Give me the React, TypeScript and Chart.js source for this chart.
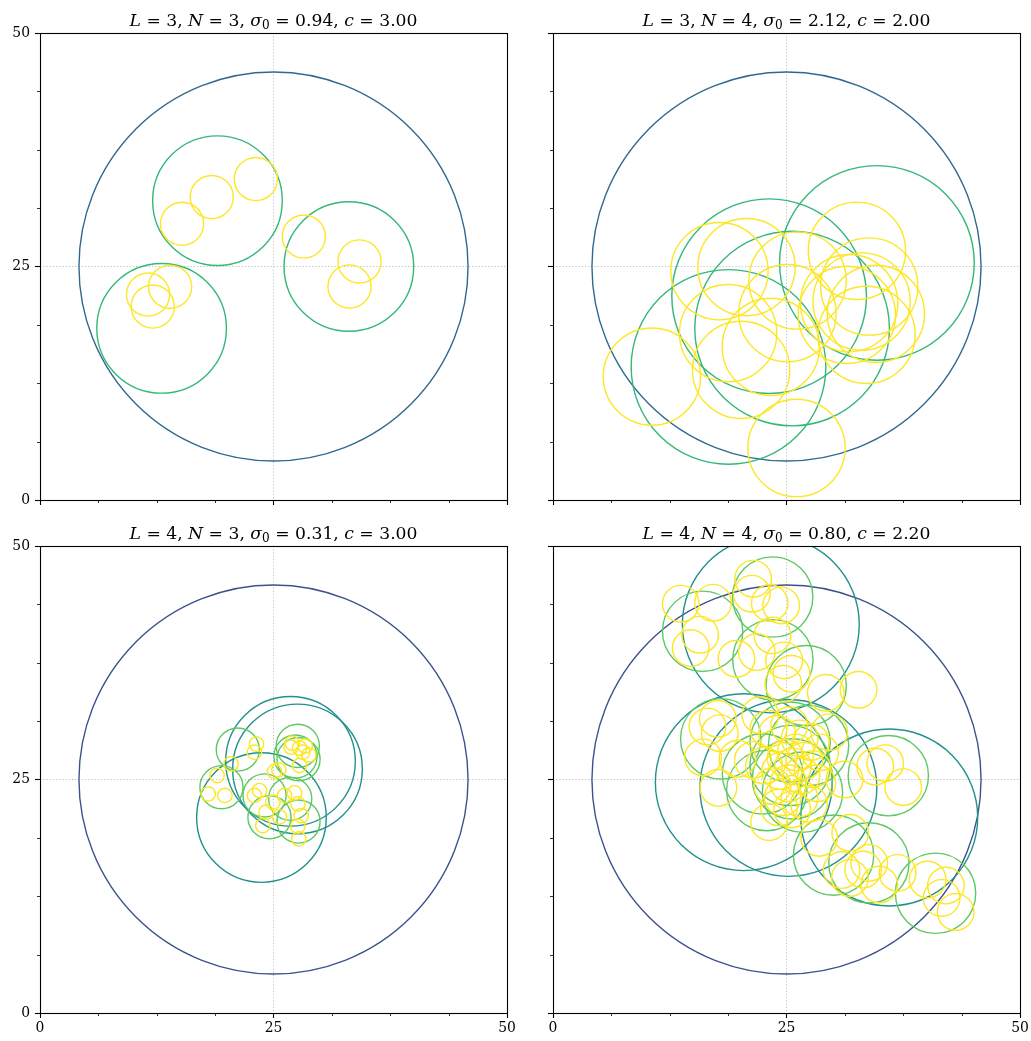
import React, { useEffect, useRef } from "react";
import { Chart, registerables } from "chart.js";

Chart.register(...registerables);

type Pt = [number, number];

// ---------- data ----------
const TITLES = [
  "L = 3, N = 3, σ₀ = 0.94, c = 3.00",
  "L = 3, N = 4, σ₀ = 2.12, c = 2.00",
  "L = 4, N = 3, σ₀ = 0.31, c = 3.00",
  "L = 4, N = 4, σ₀ = 0.80, c = 2.20",
];

const AXIS_MIN = 0;
const AXIS_MAX = 50;
const MAJOR_STEP = 25;
const MINOR_TICKS = [6.25, 12.5, 18.75, 31.25, 37.5, 43.75];

const COLORS_L3 = ["#31688e", "#35b779", "#fde725"];
const COLORS_L4 = ["#3b528b", "#21918c", "#5ec962", "#fde725"];

// panel 1
const p1Radii = [20.83, 6.94, 2.31];
const p1Level0: Pt[] = [[25, 25]];
const p1Level1: Pt[] = [[19.0, 32.05], [33.07, 25.0], [13.02, 18.38]];
const p1Level2: Pt[] = [
  [23.11, 34.36], [18.39, 32.43], [15.21, 29.57], [28.25, 28.21], [34.21, 25.54],
  [33.14, 22.86], [13.93, 22.82], [11.57, 22.0], [12.07, 20.71],
];

// panel 2
const p2Radii = [20.83, 10.42, 5.21];
const p2Level0: Pt[] = [[25, 25]];
const p2Level1: Pt[] = [[34.68, 25.38], [23.14, 21.82], [25.6, 18.36], [18.79, 14.25]];
const p2Level2: Pt[] = [
  [26.07, 5.57], [10.59, 13.21], [17.82, 24.5], [20.71, 24.93], [18.75, 17.86],
  [20.14, 13.93], [23.32, 16.39], [25.1, 20.0], [26.18, 23.5], [32.54, 26.68],
  [33.86, 22.86], [31.46, 19.82], [31.71, 21.07], [33.04, 21.25], [34.57, 19.93],
  [33.57, 17.68],
];

// panel 3
const p3Radii = [20.83, 6.94, 2.31, 0.77];
const p3Level0: Pt[] = [[25, 25]];
const p3Level1: Pt[] = [[23.71, 20.93], [26.82, 26.95], [27.57, 26.13]];
const p3Level2: Pt[] = [
  [21.18, 28.21], [19.43, 24.18], [24.04, 23.29], [26.79, 22.93], [24.57, 20.96],
  [27.68, 20.5], [27.6, 28.6], [27.35, 27.46], [27.68, 27.18],
];
const p3Level3: Pt[] = [
  [23.18, 28.79], [22.96, 27.93], [20.46, 26.68], [18.96, 25.43], [18.0, 23.46],
  [19.79, 23.29], [26.89, 28.46], [27.79, 28.36], [28.14, 27.93], [28.79, 27.64],
  [27.79, 26.5], [25.1, 25.86], [25.57, 26.04], [23.5, 23.82], [22.96, 23.29],
  [26.18, 23.29], [27.25, 23.57], [24.93, 22.57], [24.21, 21.5], [27.61, 22.39],
  [25.64, 21.0], [27.96, 21.14], [23.86, 20.07], [27.61, 20.0], [27.71, 18.64],
  [27.0, 28.9], [28.4, 28.6],
];

// panel 4
const p4Radii = [20.83, 9.47, 4.3, 1.96];
const p4Level0: Pt[] = [[25, 25]];
const p4Level1: Pt[] = [[23.32, 41.6], [20.43, 24.71], [25.2, 24.1], [36.0, 20.93]];
const p4Level2: Pt[] = [
  [23.52, 44.54], [16.02, 40.87], [23.54, 37.82], [27.11, 35.05],
  [35.9, 25.41], [30.04, 16.9], [33.82, 16.07], [40.96, 12.82],
  [17.96, 29.36], [22.43, 25.6], [22.89, 23.82], [25.39, 26.5],
  [27.36, 28.64], [25.39, 29.0], [26.71, 23.64], [25.64, 25.07],
];
const p4Level3: Pt[] = [
  [13.68, 43.82], [17.14, 43.93], [21.43, 46.5], [21.29, 44.89], [23.21, 43.89],
  [24.43, 43.64], [15.75, 40.5], [14.75, 39.07], [23.5, 40.43], [21.82, 38.64],
  [19.64, 37.93], [24.75, 37.75], [25.54, 36.32], [24.65, 35.25], [29.21, 34.29],
  [32.71, 34.61],
  [34.5, 26.39], [35.57, 26.75], [37.5, 24.18], [31.21, 25.0], [31.82, 19.29],
  [28.5, 18.75], [33.86, 16.07], [33.2, 15.36], [31.79, 14.46], [34.93, 13.75],
  [36.9, 15.0], [40.11, 14.29], [42.07, 13.64], [41.61, 12.32], [43.11, 10.82],
  [30.9, 15.3],
  [17.64, 31.5], [16.54, 30.68], [17.86, 29.96], [16.07, 27.36], [17.71, 24.11],
  [19.75, 27.21], [23.14, 20.43], [29.57, 30.07], [23.07, 30.43],
  [22.2, 31.9], [24.0, 29.9], [25.3, 30.8], [26.4, 29.4], [27.6, 29.0],
  [28.6, 27.9], [26.0, 27.9], [24.9, 27.3], [26.9, 27.0], [25.7, 26.4],
  [27.8, 26.1], [24.3, 25.9], [26.6, 25.4], [28.3, 24.6], [25.2, 24.6],
  [22.6, 26.5], [21.4, 27.1], [23.5, 24.3], [24.6, 23.1], [26.4, 23.0],
  [27.4, 22.4], [25.6, 21.8], [24.2, 22.0],
];

// ---------- layout ----------
type PanelCfg = {
  title: string;
  radii: number[];
  levels: Pt[][];
  colors: string[];
  showX: boolean;
  showY: boolean;
  left: number;
  top: number;
  width: number;
  padRight: number;
};

const CANVAS_H = 523;
const TOP_PAD = 33;
const Y_AXIS_W = 40;
const X_AXIS_H = 23;
const FONT = '"DejaVu Serif", serif';

const PANELS: PanelCfg[] = [
  { title: TITLES[0], radii: p1Radii, levels: [p1Level0, p1Level1, p1Level2], colors: COLORS_L3, showX: false, showY: true, left: 0, top: 0, width: 530, padRight: 23 },
  { title: TITLES[1], radii: p2Radii, levels: [p2Level0, p2Level1, p2Level2], colors: COLORS_L3, showX: false, showY: false, left: 513, top: 0, width: 518, padRight: 11 },
  { title: TITLES[2], radii: p3Radii, levels: [p3Level0, p3Level1, p3Level2, p3Level3], colors: COLORS_L4, showX: true, showY: true, left: 0, top: 513, width: 530, padRight: 23 },
  { title: TITLES[3], radii: p4Radii, levels: [p4Level0, p4Level1, p4Level2, p4Level3], colors: COLORS_L4, showX: true, showY: false, left: 513, top: 513, width: 518, padRight: 11 },
];

function drawMathTitle(ctx: CanvasRenderingContext2D, text: string, cx: number, baseline: number, size: number) {
  type Run = { t: string; s: "rm" | "it" | "sub" };
  const runs: Run[] = [];
  for (const ch of Array.from(text)) {
    let s: Run["s"] = "rm";
    let t = ch;
    if (ch === "₀") { s = "sub"; t = "0"; }
    else if (/[A-Za-zσ]/.test(ch)) s = "it";
    const last = runs[runs.length - 1];
    if (last && last.s === s) last.t += t;
    else runs.push({ t, s });
  }
  const fontFor = (s: Run["s"]) =>
    s === "it" ? `italic ${size}px ${FONT}` : s === "sub" ? `${size * 0.7}px ${FONT}` : `${size}px ${FONT}`;
  let total = 0;
  const widths = runs.map((r) => {
    ctx.font = fontFor(r.s);
    const w = ctx.measureText(r.t).width;
    total += w;
    return w;
  });
  let x = cx - total / 2;
  ctx.fillStyle = "#000";
  ctx.textBaseline = "alphabetic";
  ctx.textAlign = "left";
  runs.forEach((r, i) => {
    ctx.font = fontFor(r.s);
    ctx.fillText(r.t, x, r.s === "sub" ? baseline + size * 0.18 : baseline);
    x += widths[i];
  });
}

function Panel({ cfg }: { cfg: PanelCfg }) {
  const ref = useRef<HTMLCanvasElement>(null);
  useEffect(() => {
    const canvas = ref.current;
    if (!canvas) return;
    const L = cfg.levels.length;
    const datasets = cfg.levels.map((pts, lvl) => ({
      label: `level ${lvl}`,
      data: pts.map(([x, y]) => ({ x, y })),
      pointRadius: (c: any) => {
        const s = c.chart.scales.x;
        return Math.abs(s.getPixelForValue(cfg.radii[lvl]) - s.getPixelForValue(0));
      },
      pointStyle: "circle",
      pointBackgroundColor: "rgba(0,0,0,0)",
      pointBorderColor: cfg.colors[lvl],
      pointBorderWidth: 1.4,
      showLine: false,
      clip: 0,
      order: L - lvl,
    }));

    const decor = {
      id: "decor",
      afterDraw(chart: any) {
        const { ctx, chartArea: a, scales } = chart;
        const xs = scales.x;
        const ys = scales.y;
        ctx.save();
        ctx.strokeStyle = "#000";
        ctx.lineWidth = 0.8;
        for (const v of MINOR_TICKS) {
          const px = Math.round(xs.getPixelForValue(v)) + 0.5;
          ctx.beginPath();
          ctx.moveTo(px, a.bottom);
          ctx.lineTo(px, a.bottom + 3);
          ctx.stroke();
          const py = Math.round(ys.getPixelForValue(v)) + 0.5;
          ctx.beginPath();
          ctx.moveTo(a.left, py);
          ctx.lineTo(a.left - 3, py);
          ctx.stroke();
        }
        ctx.lineWidth = 1.1;
        ctx.strokeRect(a.left + 0.5, a.top + 0.5, a.right - a.left, a.bottom - a.top);
        drawMathTitle(ctx, cfg.title, (a.left + a.right) / 2, a.top - 7.5, 17.2);
        ctx.restore();
      },
    };

    const gridColor = (c: any) => (c.tick && c.tick.value === 25 ? "#b0b0b0" : "rgba(0,0,0,0)");

    const chart = new Chart(canvas, {
      type: "scatter",
      data: { datasets: datasets as any },
      options: {
        animation: false,
        responsive: false,
        maintainAspectRatio: false,
        devicePixelRatio: 1,
        events: [],
        layout: { padding: { left: 0, right: cfg.padRight, top: TOP_PAD, bottom: 0 } },
        plugins: {
          legend: { display: false },
          tooltip: { enabled: false },
          title: { display: false },
        },
        scales: {
          x: {
            type: "linear",
            min: AXIS_MIN,
            max: AXIS_MAX,
            afterFit: (s: any) => { s.height = X_AXIS_H; },
            ticks: {
              display: cfg.showX,
              stepSize: MAJOR_STEP,
              autoSkip: false,
              maxRotation: 0,
              padding: 2,
              color: "#000",
              font: { family: FONT, size: 13.9 },
            },
            grid: {
              color: gridColor,
              lineWidth: 0.8,
              tickColor: "#000",
              tickLength: 5,
              tickWidth: 1.1,
            },
            border: { display: false, dash: [1.2, 2] },
          },
          y: {
            type: "linear",
            min: AXIS_MIN,
            max: AXIS_MAX,
            afterFit: (s: any) => { s.width = Y_AXIS_W; },
            ticks: {
              display: cfg.showY,
              stepSize: MAJOR_STEP,
              autoSkip: false,
              padding: 5,
              color: "#000",
              font: { family: FONT, size: 13.9 },
            },
            grid: {
              color: gridColor,
              lineWidth: 0.8,
              tickColor: "#000",
              tickLength: 5,
              tickWidth: 1.1,
            },
            border: { display: false, dash: [1.2, 2] },
          },
        },
      } as any,
      plugins: [decor],
    });
    return () => chart.destroy();
  }, [cfg]);

  return (
    <canvas
      ref={ref}
      width={cfg.width}
      height={CANVAS_H}
      style={{ position: "absolute", left: cfg.left, top: cfg.top, width: cfg.width, height: CANVAS_H }}
    />
  );
}

export default function App() {
  return (
    <div style={{ position: "absolute", left: 0, top: 0, width: 1031, height: 1041, background: "#fff" }}>
      {PANELS.map((p, i) => (
        <Panel key={i} cfg={p} />
      ))}
    </div>
  );
}
